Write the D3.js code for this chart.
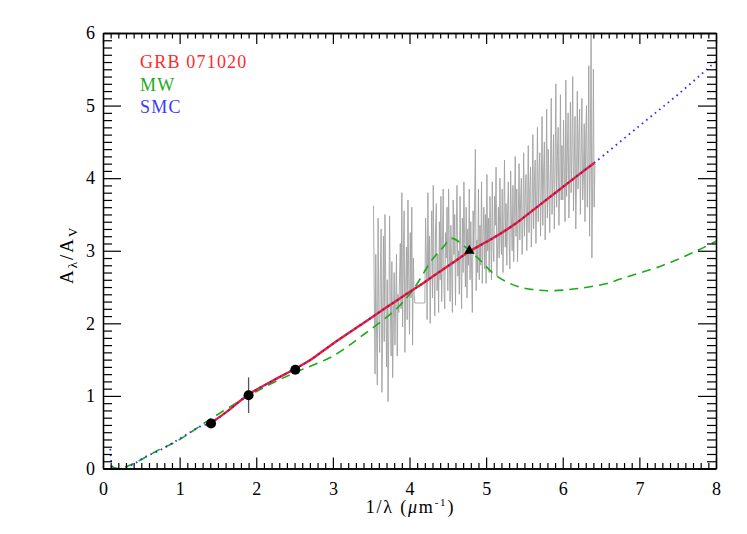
<!DOCTYPE html>
<html><head><meta charset="utf-8">
<script src="https://cdn.jsdelivr.net/npm/d3@7"></script>
<style>
body{margin:0;background:#fff;}
text{font-family:"Liberation Serif","DejaVu Serif",serif;}
</style></head>
<body><svg id="c" width="747" height="534"></svg>
<script>
// ---------- data ----------
const xDomain = [0, 8];
const yDomain = [0, 6];
const xTickLabels = ["0","1","2","3","4","5","6","7","8"];
const yTickLabels = ["0","1","2","3","4","5","6"];
const legendLabels = ["GRB 071020", "MW", "SMC"];

// SMC extinction curve (x = 1/lambda, y = A_lambda/A_V)
const smcX = [0.095,0.105,0.12,0.16,0.2,0.3,0.4,0.55,0.74,0.97,1.14,1.27,1.41,1.6,1.9,2.2,2.5,2.7,3.0,3.42,3.7,3.94,4.2,4.46,4.6,4.78,5.0,5.2,5.4,5.6,5.9,6.15,6.41,7.0,7.5,8.0];
const smcY = [0.27,0.12,0.02,-0.02,-0.02,0.02,0.06,0.16,0.25,0.39,0.50,0.58,0.63,0.77,1.02,1.20,1.37,1.49,1.72,2.02,2.22,2.39,2.57,2.76,2.86,2.99,3.12,3.245,3.385,3.55,3.795,4.00,4.21,4.72,5.15,5.61];

// GRB 071020 fitted curve
const grbX = [1.35,1.41,1.6,1.9,2.2,2.5,2.7,3.0,3.42,3.7,3.94,4.2,4.46,4.6,4.78,5.0,5.2,5.4,5.6,5.9,6.15,6.41];
const grbY = [0.59,0.63,0.77,1.02,1.20,1.37,1.49,1.72,2.02,2.22,2.39,2.57,2.76,2.86,2.99,3.12,3.245,3.385,3.55,3.795,4.00,4.21];

// Milky Way extinction curve
const mwX = [0.1,0.2,0.4,0.7,1.0,1.4,1.9,2.2,2.5,3.0,3.42,3.85,4.07,4.29,4.44,4.55,4.73,4.92,5.09,5.27,5.44,5.65,5.88,6.2,6.58,6.75,7.31,7.75,8.0];
const mwY = [0.03,0.0,0.07,0.24,0.40,0.68,1.0,1.17,1.32,1.55,1.86,2.22,2.50,2.87,3.05,3.17,3.05,2.87,2.69,2.57,2.50,2.46,2.45,2.48,2.55,2.61,2.80,3.00,3.13];

// photometric points
const photX = [1.41, 1.90, 2.51];
const photY = [0.62, 1.01, 1.36];
const photErr = [0, 0.245, 0];
const triX = [4.78];
const triY = [3.00];

// spectrum segments: start x, step, values
const specStart = [3.53, 3.88, 4.20];
const specStep = 0.01;
const specA = [3.62,2.40,1.30,2.95,1.85,1.15,3.45,2.20,1.60,2.75,3.30,1.05,2.10,3.20,1.75,3.50,2.55,1.40,2.60,0.92,
1.90,3.48,2.30,1.55,2.85,1.25,2.05,2.70,1.70,2.30,2.95,1.55,2.40,2.15];
const specB = [3.10,2.20,3.80,1.95,2.90,3.55,1.60,2.45,3.05,2.05,3.70,2.60,1.85,3.25,2.35,3.60,1.70,2.90,2.40,2.28];
const specC = [
2.28,3.45,2.90,2.05,3.80,2.60,3.20,2.00,2.85,3.55,
2.35,3.90,2.70,2.10,3.30,3.65,2.45,2.95,2.15,3.40,
2.60,3.75,2.30,3.10,3.85,2.50,2.20,3.25,2.90,3.60,
2.45,3.85,3.05,2.30,3.35,2.75,2.15,3.70,2.95,3.50,
2.25,3.20,3.90,2.65,3.00,2.40,3.75,2.85,2.20,3.45,
2.70,3.95,3.10,2.50,3.60,2.35,3.30,2.80,3.85,2.60,
3.40,2.75,2.15,3.55,2.95,3.70,4.40,2.45,3.15,2.70,
3.85,2.60,3.35,2.80,3.95,2.55,3.20,3.60,2.75,3.50,
2.55,4.05,3.00,3.45,2.70,3.75,3.20,2.60,3.95,3.10,
2.85,3.75,3.35,4.15,2.65,3.05,3.60,2.90,4.00,3.25,
2.95,3.85,2.70,3.40,4.25,3.05,3.65,2.80,3.55,3.95,
3.10,2.75,4.10,3.45,3.00,3.90,2.85,3.60,4.30,3.20,
3.85,2.85,3.50,4.20,3.15,3.70,4.00,2.95,3.40,4.35,
3.20,3.75,4.05,3.00,3.55,4.45,3.25,3.85,4.15,3.05,
3.60,4.60,3.30,3.95,4.25,3.10,3.75,4.70,3.40,4.05,
4.35,3.20,3.85,4.85,3.35,4.10,4.50,3.15,3.70,4.95,
3.45,4.40,3.90,3.25,4.20,5.10,3.50,4.00,4.60,3.30,
4.15,5.30,3.60,4.30,4.70,3.35,3.95,5.15,3.70,4.45,
3.70,4.80,4.10,3.40,5.35,3.75,4.35,4.90,3.45,4.05,
5.05,3.80,4.40,5.40,3.55,4.20,4.85,3.30,4.00,5.20,
3.85,4.55,4.95,3.50,4.30,5.10,3.70,4.05,4.75,3.40,
4.60,5.00,3.60,4.25,5.55,3.20,4.40,6.00,2.90,3.90,
5.50,3.60,4.20];
const specSegments = [specA, specB, specC];

// ---------- layout ----------
const L = 103, R = 716, T = 33, B = 468.5;
const svg = d3.select("#c");
const x = d3.scaleLinear().domain(xDomain).range([L, R]);
const y = d3.scaleLinear().domain(yDomain).range([B, T]);

svg.append("defs").append("clipPath").attr("id","clip")
  .append("rect").attr("x",L).attr("y",T).attr("width",R-L).attr("height",B-T);
const plot = svg.append("g").attr("clip-path","url(#clip)");

// spectrum
const spec = [];
specSegments.forEach((seg,k)=>seg.forEach((v,i)=>spec.push([specStart[k]+i*specStep, v])));
plot.append("path").datum(spec)
  .attr("fill","none").attr("stroke","#a2a2a2").attr("stroke-width",0.9)
  .attr("d", d3.line().x(d=>x(d[0])).y(d=>y(d[1])));

const smooth = d3.line().curve(d3.curveCatmullRom.alpha(0.5)).x(d=>x(d[0])).y(d=>y(d[1]));
const zip = (a,b)=>a.map((v,i)=>[v,b[i]]);

plot.append("path").datum(zip(mwX,mwY))
  .attr("fill","none").attr("stroke","#1aaa1a").attr("stroke-width",1.6)
  .attr("stroke-dasharray","9,6").attr("d",smooth);
plot.append("path").datum(zip(grbX,grbY))
  .attr("fill","none").attr("stroke","#ff1a1a").attr("stroke-width",2.4).attr("d",smooth);
plot.append("path").datum(zip(smcX,smcY))
  .attr("fill","none").attr("stroke","#2a2aff").attr("stroke-width",1.8)
  .attr("stroke-dasharray","1.6,4").attr("d",smooth);

// error bars and points
photX.forEach((px,i)=>{
  if(photErr[i]>0){
    svg.append("line").attr("x1",x(px)).attr("x2",x(px))
      .attr("y1",y(photY[i]-photErr[i])).attr("y2",y(photY[i]+photErr[i]))
      .attr("stroke","#555").attr("stroke-width",1.3);
  }
});
svg.selectAll("circle.pt").data(zip(photX,photY)).enter().append("circle")
  .attr("cx",d=>x(d[0])).attr("cy",d=>y(d[1])).attr("r",5).attr("fill","#000");
svg.selectAll("path.tri").data(zip(triX,triY)).enter().append("path")
  .attr("d", d3.symbol().type(d3.symbolTriangle).size(45))
  .attr("transform",d=>`translate(${x(d[0])},${y(d[1])})`).attr("fill","#000");

// ---------- axes ----------
const xMajor = d3.range(0, 9, 1);
const xMinor = d3.range(0, 81).map(i=>i/10).filter(v=>Math.abs(v-Math.round(v))>1e-6);
const yMajor = d3.range(0, 7, 1);
const yMinor = d3.range(0, 61).map(i=>i/10).filter(v=>Math.abs(v-Math.round(v))>1e-6);

function ax(gen, tr, vals, size, labels){
  const g = svg.append("g").attr("transform",tr).call(gen.tickValues(vals).tickSize(size).tickSizeOuter(0)
    .tickFormat(labels ? (d,i)=>labels[i] : ""));
  g.select(".domain").attr("stroke","#000").attr("stroke-width",1.3);
  g.selectAll(".tick line").attr("stroke","#000").attr("stroke-width",1.2);
  return g;
}
ax(d3.axisBottom(x).tickPadding(14), `translate(0,${B})`, xMajor, -11, xTickLabels);
ax(d3.axisBottom(x), `translate(0,${B})`, xMinor, -5.5, null);
ax(d3.axisTop(x), `translate(0,${T})`, xMajor, -11, null);
ax(d3.axisTop(x), `translate(0,${T})`, xMinor, -5.5, null);
ax(d3.axisLeft(y).tickPadding(8), `translate(${L},0)`, yMajor, -18, yTickLabels);
ax(d3.axisLeft(y), `translate(${L},0)`, yMinor, -9, null);
ax(d3.axisRight(y), `translate(${R},0)`, yMajor, -18, null);
ax(d3.axisRight(y), `translate(${R},0)`, yMinor, -9, null);

svg.selectAll(".tick text").attr("font-family","Liberation Serif").attr("font-size",18).attr("fill","#000");

// axis titles
const xt = svg.append("text").attr("x",(L+R)/2+1).attr("y",513).attr("text-anchor","middle")
  .attr("font-size",18).attr("letter-spacing",1.8).attr("fill","#000");
xt.append("tspan").text("1/λ  (");
xt.append("tspan").attr("font-style","italic").text("μ");
xt.append("tspan").text("m");
xt.append("tspan").attr("font-size",11).attr("dy",-7).text("-1");
xt.append("tspan").attr("dy",7).text(")");

const yt = svg.append("text").attr("transform",`translate(73,${(T+B)/2 + 4}) rotate(-90)`)
  .attr("text-anchor","middle").attr("font-size",19).attr("letter-spacing",2).attr("fill","#000");
yt.append("tspan").text("A");
yt.append("tspan").attr("font-size",13).attr("dy",4).text("λ");
yt.append("tspan").attr("dy",-4).text("/A");
yt.append("tspan").attr("font-size",13).attr("dy",4).text("V");

// legend
const legColors = ["#ff2a2a","#22aa22","#3a3aff"];
const legY = [68, 91, 113];
legendLabels.forEach((t,i)=>{
  svg.append("text").attr("x",140).attr("y",legY[i]).attr("font-size",18)
    .attr("fill",legColors[i]).attr("letter-spacing",1.2).text(t);
});
</script></body></html>
